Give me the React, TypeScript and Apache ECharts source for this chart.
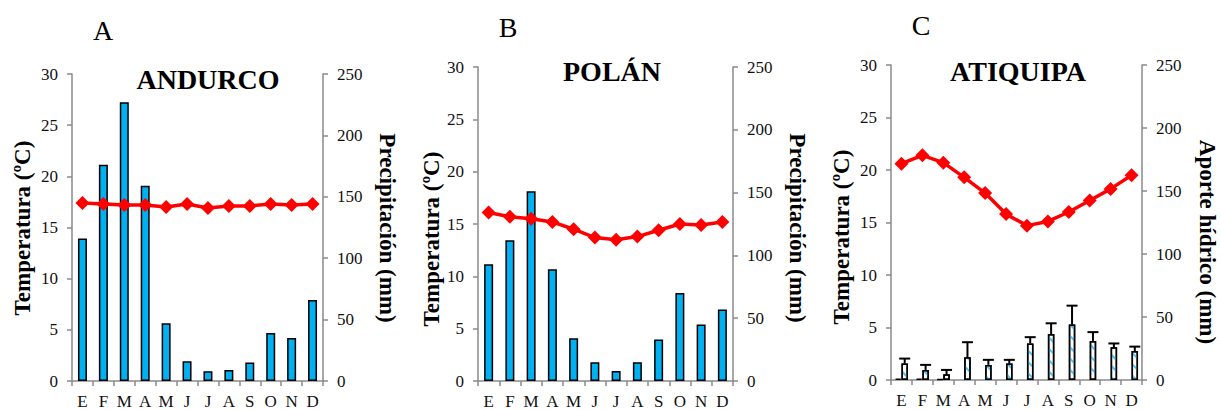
import React, { useEffect, useRef } from "react";
import * as echarts from "echarts";

const months = ["E", "F", "M", "A", "M", "J", "J", "A", "S", "O", "N", "D"];
const tempTicks = [0, 30, 5];
const precTicks = [0, 250, 50];

const andurcoPrecip = [116, 176, 227, 159, 47, 16, 8, 9, 15, 39, 35, 66];
const andurcoTemp = [17.4, 17.3, 17.2, 17.2, 17.0, 17.3, 16.9, 17.1, 17.1, 17.3, 17.2, 17.3];

const polanPrecip = [93, 112, 151, 89, 34, 15, 8, 15, 33, 70, 45, 57];
const polanTemp = [16.1, 15.7, 15.5, 15.2, 14.5, 13.7, 13.5, 13.8, 14.4, 15.0, 14.9, 15.2];

const atiquipaTemp = [20.6, 21.4, 20.7, 19.3, 17.8, 15.8, 14.7, 15.1, 16.0, 17.1, 18.2, 19.5];
const atiquipaPrecip = [1, 1, 0.6, null, null, null, null, null, null, null, null, null];
const atiquipaFog = [13, 8, 4.5, 18, 12, 13, 29, 36.5, 44, 31, 26, 23];
const atiquipaFogSd = [4, 4, 3.5, 12, 4, 3, 5, 8.5, 15, 7, 3, 3.5];

const FONT = "Liberation Serif, Times New Roman, serif";
const AXIS_GRAY = "#8a8a8a";
const BAR_BLUE = "#00b0f0";
const RED = "#ff0000";

export default function App() {
  const ref = useRef<HTMLDivElement>(null);

  useEffect(() => {
    if (!ref.current) return;
    const chart = echarts.init(ref.current, undefined, { renderer: "svg" });

    const grids = [
      { left: 72, top: 74, width: 251, height: 307 },
      { left: 478, top: 67, width: 255, height: 314 },
      { left: 891, top: 65, width: 251, height: 315 },
    ];

    const xAxes = grids.map((_, i) => ({
      type: "category",
      gridIndex: i,
      data: months,
      boundaryGap: true,
      axisLine: { show: true, lineStyle: { color: AXIS_GRAY, width: 1.5 } },
      axisTick: { show: true, length: 5, lineStyle: { color: AXIS_GRAY, width: 1.5 } },
      axisLabel: { color: "#111", fontFamily: FONT, fontSize: 17, margin: 12, interval: 0 },
      splitLine: { show: false },
    }));

    const yAxes: any[] = [];
    grids.forEach((_, i) => {
      yAxes.push({
        type: "value",
        gridIndex: i,
        position: "left",
        min: tempTicks[0],
        max: tempTicks[1],
        interval: tempTicks[2],
        axisLine: { show: true, lineStyle: { color: AXIS_GRAY, width: 1.5 } },
        axisTick: { show: true, length: 5, lineStyle: { color: AXIS_GRAY, width: 1.5 } },
        axisLabel: { color: "#111", fontFamily: FONT, fontSize: 17, margin: 14 },
        splitLine: { show: false },
      });
      yAxes.push({
        type: "value",
        gridIndex: i,
        position: "right",
        min: precTicks[0],
        max: precTicks[1],
        interval: precTicks[2],
        axisLine: { show: true, lineStyle: { color: AXIS_GRAY, width: 1.5 } },
        axisTick: { show: true, length: 5, lineStyle: { color: AXIS_GRAY, width: 1.5 } },
        axisLabel: { color: "#111", fontFamily: FONT, fontSize: 17, margin: 14 },
        splitLine: { show: false },
      });
    });

    const barStyle = { color: BAR_BLUE, borderColor: "#000", borderWidth: 1.5 };
    const lineSeries = (data: number[], gi: number) => ({
      type: "line",
      xAxisIndex: gi,
      yAxisIndex: gi * 2,
      data,
      symbol: "diamond",
      symbolSize: 14,
      lineStyle: { color: RED, width: 3.5 },
      itemStyle: { color: RED },
      z: 5,
    });

    const errData = atiquipaFog.map((v, i) => [i, v, v + atiquipaFogSd[i]]);

    const series: any[] = [
      {
        type: "bar",
        xAxisIndex: 0,
        yAxisIndex: 1,
        data: andurcoPrecip,
        barWidth: 9,
        itemStyle: barStyle,
      },
      lineSeries(andurcoTemp, 0),
      {
        type: "bar",
        xAxisIndex: 1,
        yAxisIndex: 3,
        data: polanPrecip,
        barWidth: 9,
        itemStyle: barStyle,
      },
      lineSeries(polanTemp, 1),
      {
        type: "bar",
        xAxisIndex: 2,
        yAxisIndex: 5,
        data: atiquipaPrecip,
        barWidth: 6.5,
        barGap: "0%",
        itemStyle: barStyle,
      },
      {
        type: "bar",
        xAxisIndex: 2,
        yAxisIndex: 5,
        data: atiquipaFog,
        barWidth: 6.5,
        barGap: "0%",
        itemStyle: {
          color: "#ffffff",
          borderColor: "#000",
          borderWidth: 1.5,
          decal: {
            symbol: "rect",
            symbolSize: 1,
            color: "#4cc2f2",
            dashArrayX: [1, 0],
            dashArrayY: [2, 6],
            rotation: Math.PI / 4,
          },
        },
      },
      {
        type: "custom",
        xAxisIndex: 2,
        yAxisIndex: 5,
        data: errData,
        encode: { x: 0, y: [1, 2] },
        z: 4,
        renderItem: (params: any, api: any) => {
          const base = api.coord([api.value(0), api.value(1)]);
          const top = api.coord([api.value(0), api.value(2)]);
          const cx = base[0] + 3.25;
          const st = { stroke: "#000", lineWidth: 2 };
          return {
            type: "group",
            children: [
              { type: "line", shape: { x1: cx, y1: base[1], x2: cx, y2: top[1] }, style: st },
              { type: "line", shape: { x1: cx - 5.5, y1: top[1], x2: cx + 5.5, y2: top[1] }, style: st },
            ],
          };
        },
      },
      lineSeries(atiquipaTemp, 2),
    ];

    const txt = (
      text: string,
      x: number,
      y: number,
      size: number,
      bold: boolean,
      rotation = 0
    ) => ({
      type: "text",
      x,
      y,
      rotation,
      style: {
        text,
        fontSize: size,
        fontWeight: bold ? "bold" : "normal",
        fontFamily: FONT,
        fill: "#000",
        textAlign: "center",
        textVerticalAlign: "middle",
        align: "center",
        verticalAlign: "middle",
      },
    });

    const graphic = [
      txt("A", 103, 30, 28, false),
      txt("B", 508, 27, 28, false),
      txt("C", 921, 25, 28, false),
      txt("ANDURCO", 208, 79, 28, true),
      txt("POLÁN", 612, 71, 28, true),
      txt("ATIQUIPA", 1018, 71, 28, true),
      txt("Temperatura (ºC)", 22, 228, 23, true, Math.PI / 2),
      txt("Precipitación (mm)", 387, 228, 23, true, -Math.PI / 2),
      txt("Temperatura (ºC)", 431, 239, 23, true, Math.PI / 2),
      txt("Precipitación (mm)", 797, 228, 23, true, -Math.PI / 2),
      txt("Temperatura (ºC)", 841, 237, 23, true, Math.PI / 2),
      txt("Aporte hídrico (mm)", 1207, 242, 23, true, -Math.PI / 2),
    ];

    chart.setOption({
      animation: false,
      backgroundColor: "#fff",
      grid: grids,
      xAxis: xAxes,
      yAxis: yAxes,
      series,
      graphic,
    });

    return () => chart.dispose();
  }, []);

  return (
    <div
      ref={ref}
      style={{ position: "absolute", left: 0, top: 0, width: 1221, height: 410 }}
    />
  );
}
